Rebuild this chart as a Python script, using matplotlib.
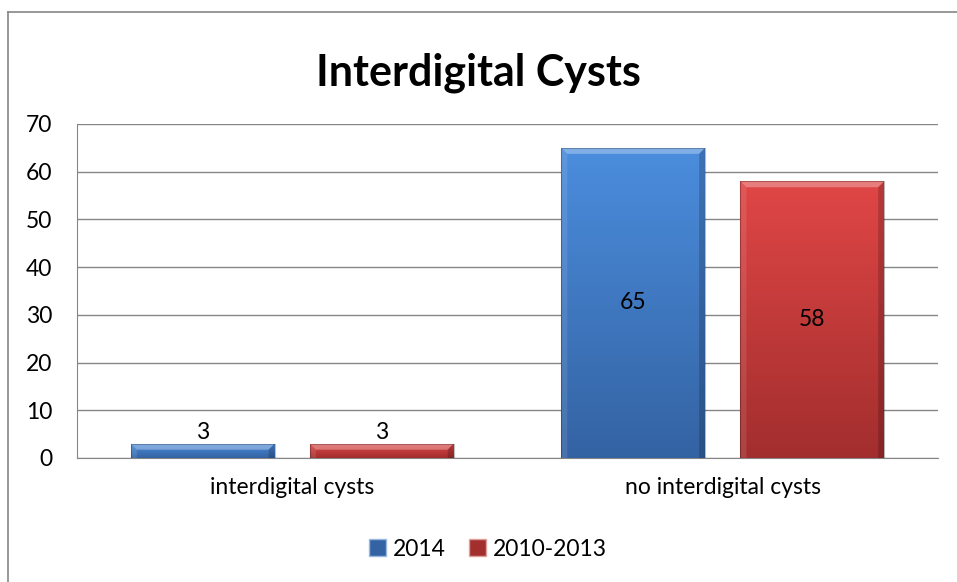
import matplotlib
matplotlib.use("Agg")
from matplotlib import pyplot as plt
from matplotlib.colors import LinearSegmentedColormap
from matplotlib.patches import Polygon, Rectangle
from matplotlib.lines import Line2D
import numpy as np

plt.rcParams['font.family'] = ['Lato', 'DejaVu Sans']

categories = ["interdigital cysts", "no interdigital cysts"]
series_names = ["2014", "2010-2013"]
values_2014 = [3, 65]
values_2010_2013 = [3, 58]

# top / bottom colours of the gradient
blue = ("#4b8ddd", "#3463a3")
red = ("#e04646", "#a32e2e")

fig = plt.figure(figsize=(9.57, 5.82), dpi=100)
ax = fig.add_axes([77 / 957, 1 - 458 / 582, (938 - 77) / 957, (458 - 124) / 582])

x = np.arange(len(categories))
width = 0.334
offset = 0.208
fs = 16.5


def gradient_bar(xc, h, cols):
    bar = ax.bar(xc, h, width, color=cols[0], edgecolor="none", zorder=3)[0]
    cmap = LinearSegmentedColormap.from_list("g", [cols[1], cols[0]])
    grad = np.linspace(0, 1, 100).reshape(-1, 1)
    im = ax.imshow(grad, cmap=cmap, extent=(xc - width / 2, xc + width / 2, 0, h),
                   origin="lower", aspect="auto", zorder=4)
    im.set_clip_path(bar)
    # bevel edges (approx 6 px)
    bx = 6 * 2 / 861
    by = min(6 * 70 / 334, h / 2)
    x0, x1 = xc - width / 2, xc + width / 2
    top = Polygon([(x0, h), (x1, h), (x1 - bx, h - by), (x0 + bx, h - by)],
                  closed=True, fc="white", alpha=0.3, ec="none", zorder=5)
    left = Polygon([(x0, 0), (x0, h), (x0 + bx, h - by), (x0 + bx, 0)],
                   closed=True, fc="white", alpha=0.1, ec="none", zorder=5)
    right = Polygon([(x1, 0), (x1, h), (x1 - bx, h - by), (x1 - bx, 0)],
                    closed=True, fc="black", alpha=0.18, ec="none", zorder=5)
    for p in (top, left, right):
        ax.add_patch(p)
    ax.add_patch(Rectangle((x0, 0), width, h, fill=False, ec="black",
                           alpha=0.25, lw=0.8, zorder=6))


for i in range(len(categories)):
    gradient_bar(x[i] - offset, values_2014[i], blue)
    gradient_bar(x[i] + offset, values_2010_2013[i], red)

# data labels
for i in range(len(categories)):
    for xc, v in ((x[i] - offset, values_2014[i]), (x[i] + offset, values_2010_2013[i])):
        if v > 10:
            ax.text(xc, v / 2, str(v), ha="center", va="center", fontsize=fs, zorder=7)
        else:
            ax.text(xc, v + 0.2, str(v), ha="center", va="bottom", fontsize=fs, zorder=7)

ax.set_xlim(-0.5, 1.5)
ax.set_ylim(0, 70)
ax.set_yticks(range(0, 71, 10))
ax.set_xticks(x)
ax.set_xticklabels(categories, fontsize=fs)
ax.tick_params(axis="y", labelsize=fs, length=0, pad=18)
ax.tick_params(axis="x", length=0, pad=14)
ax.grid(axis="y", color="#868686", lw=1, zorder=0)
for s in ("top", "right"):
    ax.spines[s].set_visible(False)
for s in ("left", "bottom"):
    ax.spines[s].set_color("#868686")

fig.text(0.5, 1 - 73 / 582, "Interdigital Cysts", ha="center", va="center",
         fontsize=31, fontweight="bold")

handles = [Rectangle((0, 0), 1, 1, fc=blue[1], ec="#9ab8e0"),
           Rectangle((0, 0), 1, 1, fc=red[1], ec="#e0a0a0")]
fig.legend(handles, series_names, loc="center", bbox_to_anchor=(0.51, 1 - 549 / 582),
           ncol=2, frameon=False, fontsize=fs, handlelength=0.75, handleheight=0.75,
           handletextpad=0.3, columnspacing=1.0)

# chart border (top and left visible)
fig.add_artist(Line2D([8 / 957, 1], [1 - 12 / 582, 1 - 12 / 582], color="#868686", lw=1.2))
fig.add_artist(Line2D([8 / 957, 8 / 957], [0, 1 - 12 / 582], color="#868686", lw=1.2))

fig.savefig("out.png", dpi=100)
